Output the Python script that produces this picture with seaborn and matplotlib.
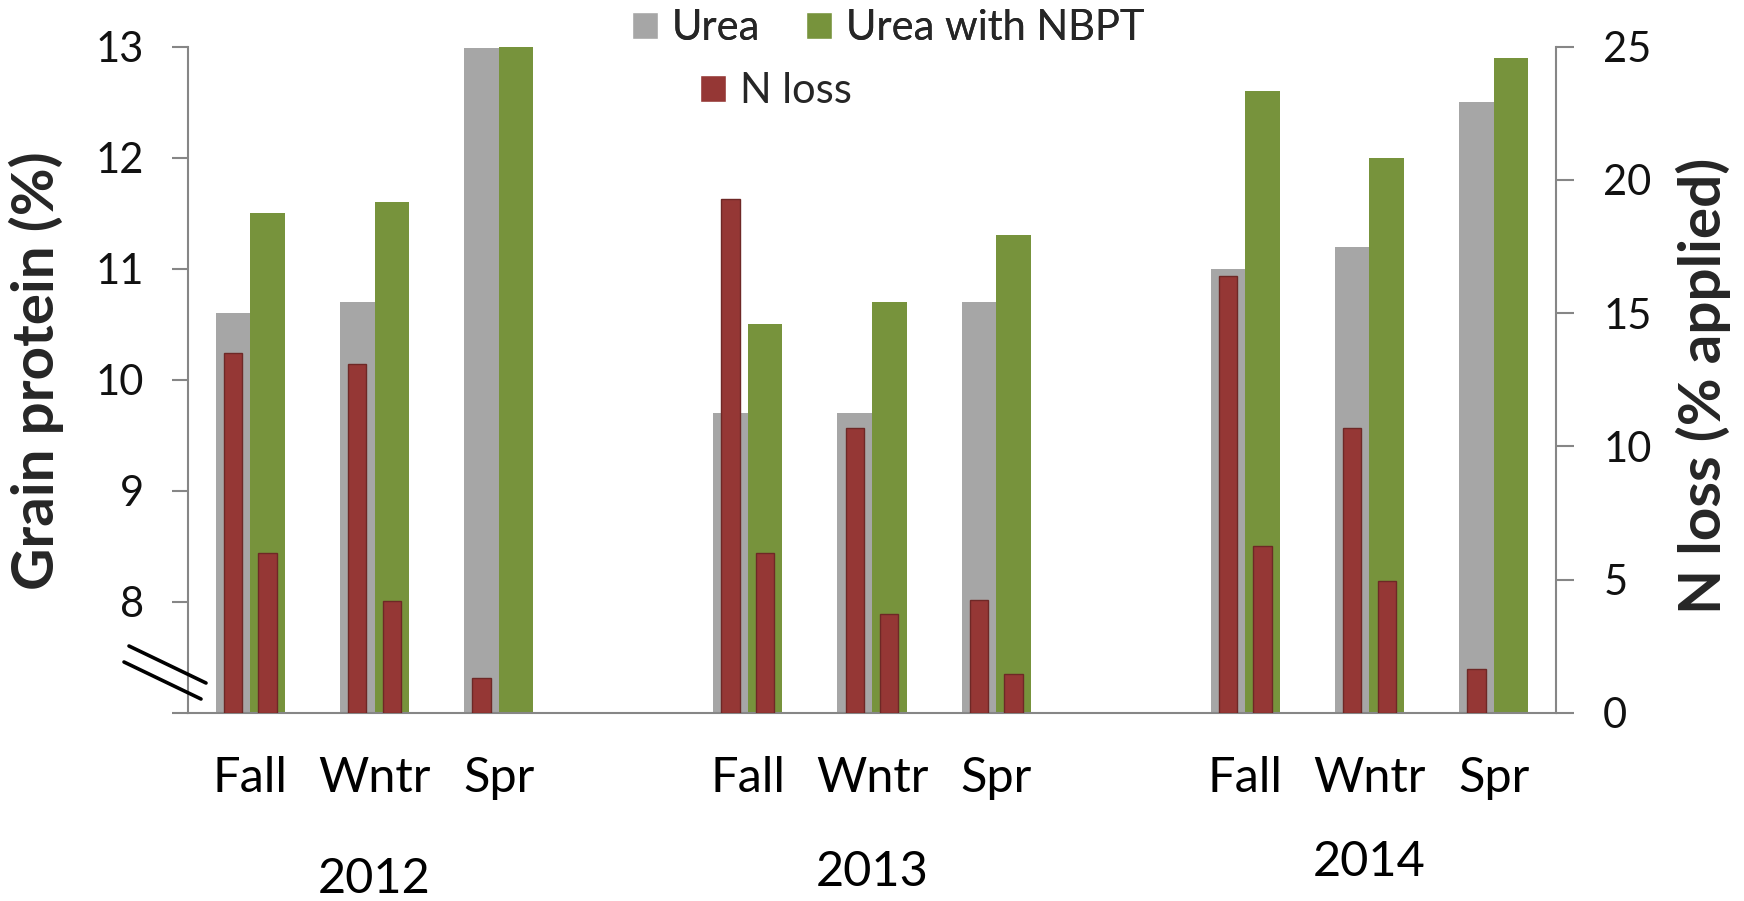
import numpy as np
import pandas as pd
import matplotlib
matplotlib.use("Agg")
import matplotlib.pyplot as plt
import matplotlib.transforms as mtransforms
from matplotlib.patches import Patch
from matplotlib.lines import Line2D
import seaborn as sns

# ---------------- data ----------------
years = ["2012", "2013", "2014"]
seasons = ["Fall", "Wntr", "Spr"]
urea_protein = [10.6, 10.7, 12.99, 9.7, 9.7, 10.7, 11.0, 11.2, 12.5]
nbpt_protein = [11.5, 11.6, 13.01, 10.5, 10.7, 11.3, 12.6, 12.0, 12.9]
urea_nloss = [13.5, 13.1, 1.3, 19.3, 10.7, 4.25, 16.4, 10.7, 1.65]
nbpt_nloss = [6.0, 4.2, np.nan, 6.0, 3.7, 1.45, 6.25, 4.95, np.nan]
series_names = ["Urea", "Urea with NBPT", "N loss"]

# ---------------- layout ----------------
# category slots: three seasons per year, one empty slot between years
slot = np.array([0, 1, 2, 4, 5, 6, 8, 9, 10], dtype=float)
off = 0.139
W, H = 1744, 901

C_GREY = "#A6A6A6"
C_GREEN = "#77933C"
C_RED = "#953735"
C_AXIS = "#868686"

sns.set_style("white")
plt.rcParams["font.family"] = ["Lato", "DejaVu Sans"]

fig = plt.figure(figsize=(W / 100, H / 100), dpi=100)
ax = fig.add_axes([188 / W, 1 - 713 / H, (1556 - 188) / W, (713 - 46.7) / H])
ax2 = ax.twinx()

df_u = pd.DataFrame({"x": slot - off, "y": urea_protein})
df_n = pd.DataFrame({"x": slot + off, "y": nbpt_protein})
df_ru = pd.DataFrame({"x": slot - off, "y": urea_nloss}).dropna()
df_rn = pd.DataFrame({"x": slot + off, "y": nbpt_nloss}).dropna()

sns.barplot(data=df_u, x="x", y="y", native_scale=True, width=0.278,
            color=C_GREY, saturation=1, errorbar=None, ax=ax, linewidth=0)
sns.barplot(data=df_n, x="x", y="y", native_scale=True, width=0.278,
            color=C_GREEN, saturation=1, errorbar=None, ax=ax, linewidth=0)
sns.barplot(data=df_ru, x="x", y="y", native_scale=True, width=0.148,
            color=C_RED, saturation=1, errorbar=None, ax=ax2,
            linewidth=1.0, edgecolor="#6e2826")
sns.barplot(data=df_rn, x="x", y="y", native_scale=True, width=0.148,
            color=C_RED, saturation=1, errorbar=None, ax=ax2,
            linewidth=1.0, edgecolor="#6e2826")

for a in (ax, ax2):
    a.set_xlim(-0.5, 10.5)
    a.set_xlabel("")
    a.set_ylabel("")
    a.grid(False)

ax.set_ylim(7, 13)
ax.set_yticks(range(7, 14))
ax.set_yticklabels([""] + [str(v) for v in range(8, 14)])
ax2.set_ylim(0, 25)
ax2.set_yticks(range(0, 26, 5))

ax.set_xticks(slot)
ax.set_xticklabels(seasons * 3)
ax.tick_params(axis="x", length=0, pad=31, labelsize=35, labelcolor="black")
ax.tick_params(axis="y", direction="out", length=11.5, width=1.5, color=C_AXIS,
               pad=20, labelsize=30, labelcolor="#111111")
ax2.tick_params(axis="y", direction="out", length=13, width=1.5, color=C_AXIS,
                pad=21, labelsize=30, labelcolor="#111111")

for s in ["top", "right"]:
    ax.spines[s].set_visible(False)
for s in ["top", "left", "bottom"]:
    ax2.spines[s].set_visible(False)
for sp in [ax.spines["left"], ax.spines["bottom"], ax2.spines["right"]]:
    sp.set_color(C_AXIS)
    sp.set_linewidth(1.5)

# year labels, under the middle season of each year
tr = mtransforms.blended_transform_factory(ax.transData, fig.transFigure)
year_y = [879, 872, 862]
for i, yr in enumerate(years):
    ax.text(slot[3 * i + 1], 1 - year_y[i] / H, yr, transform=tr,
            ha="center", va="center", fontsize=35, color="black")

# axis titles
fig.text(36 / W, 1 - 371 / H, "Grain protein (%)", rotation=90, ha="center",
         va="center", fontsize=42, fontweight="bold")
fig.text(1703 / W, 1 - 386 / H, "N loss (% applied)", rotation=90, ha="center",
         va="center", fontsize=42, fontweight="bold")

# axis break marks
for (x0, y0, x1, y1) in [(129, 646, 206, 683), (124, 662, 201, 699)]:
    fig.add_artist(Line2D([x0 / W, x1 / W], [1 - y0 / H, 1 - y1 / H],
                          transform=fig.transFigure, color="black", lw=2.6))

# legend
h1 = [Patch(facecolor=C_GREY, label=series_names[0]),
      Patch(facecolor=C_GREEN, label=series_names[1])]
h2 = [Patch(facecolor=C_RED, label=series_names[2])]
leg_kw = dict(frameon=False, fontsize=30, borderpad=0, borderaxespad=0,
              handlelength=0.62, handleheight=0.6, handletextpad=0.34,
              columnspacing=1.1, loc="upper left")
l1 = fig.legend(handles=h1, ncol=2, bbox_to_anchor=(632 / W, 1 - 9 / H), **leg_kw)
l2 = fig.legend(handles=h2, ncol=1, bbox_to_anchor=(700 / W, 1 - 72 / H), **leg_kw)
fig.add_artist(l1)

fig.savefig("out.png", dpi=100, facecolor="white")
